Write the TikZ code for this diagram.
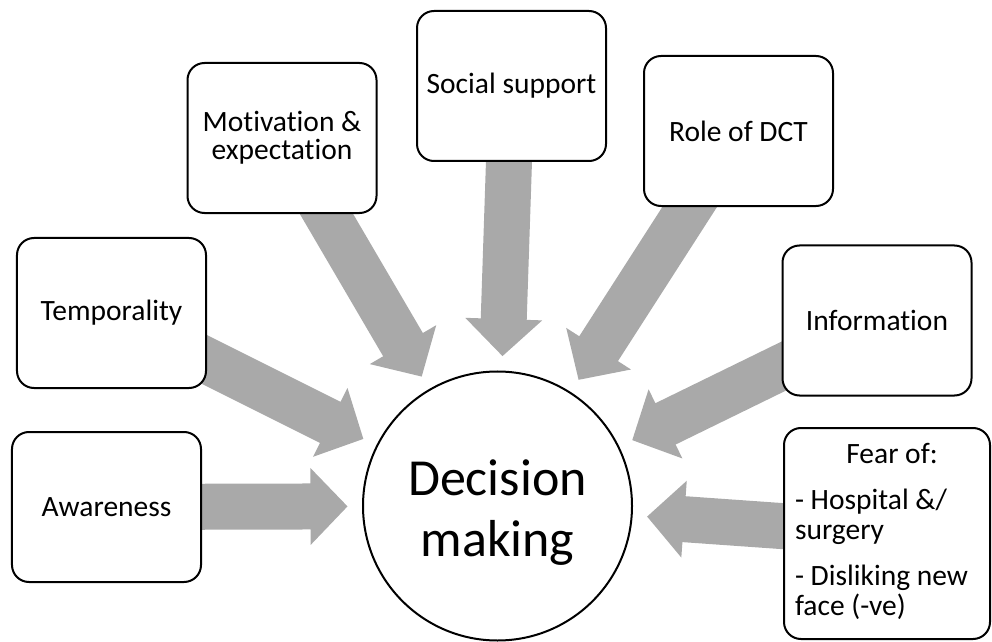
\documentclass[tikz,border=0pt]{standalone}
\usepackage{fontspec}
\setmainfont{Carlito}[Ligatures=NoCommon]
\usetikzlibrary{calc}
\pgfdeclarelayer{background}
\pgfsetlayers{background,main}
\definecolor{arrowgray}{RGB}{169,169,169}
\tikzset{
  box/.style={draw=black, line width=2bp, fill=white, rounded corners=17bp,
    minimum width=189bp, minimum height=150bp, align=center, inner sep=0pt,
    font=\fontsize{29.5bp}{28.3bp}\selectfont},
  hub/.style={draw=black, line width=2bp, fill=white, circle, minimum size=269bp,
    inner sep=0pt},
  hubtext/.style={align=center, inner sep=0pt, font=\fontsize{52bp}{61bp}\selectfont},
  arrowfill/.style={fill=arrowgray, draw=none}
}
\newcommand{\blockarr}[1]{%
  \path ($(dm.center)!150bp!(#1.center)$) coordinate (T)
        ($(T)!37bp!(#1.center)$) coordinate (B);
  \fill[arrowfill] ($(#1.center)!23bp!90:(T)$) -- ($(B)!23bp!90:(T)$)
    -- ($(B)!38.5bp!90:(T)$) -- (T) -- ($(B)!38.5bp!-90:(T)$)
    -- ($(B)!23bp!-90:(T)$) -- ($(#1.center)!23bp!-90:(T)$) -- cycle;
}
\begin{document}
\begin{tikzpicture}[x=1bp, y=-1bp]
\useasboundingbox (0,0) rectangle (992,642);
\node[hub] (dm) at (497.5,506) {};
\node[hubtext] (dmt) at ($(dm.center)+(0,7)$) {Decision\\making};
\node[box] (aw) at (106.5,507) {Awareness};
\node[box] (te) at (111.5,313) {Temporality};
\node[box] (mo) at (282,138) {Motivation \&\\expectation};
\node[box] (so) at (511.5,86) {Social support};
\node[box] (ro) at (738.5,131) {Role of DCT};
\node[box] (in) at (877,320.5) {Information};
\node[box, minimum width=206bp, minimum height=211bp,
  font=\fontsize{29.5bp}{30bp}\selectfont] (fe) at (887,533.5)
  {\begin{tabular}{@{}p{184bp}@{}}\makebox[184bp]{\hspace{10bp}Fear of:}\\[16bp]- Hospital \&/\\surgery\\[16bp]- Disliking new\\face (-ve)\end{tabular}};
\begin{pgfonlayer}{background}
\blockarr{aw}
\blockarr{te}
\blockarr{mo}
\blockarr{so}
\blockarr{ro}
\blockarr{in}
\blockarr{fe}
\end{pgfonlayer}
\end{tikzpicture}
\end{document}
